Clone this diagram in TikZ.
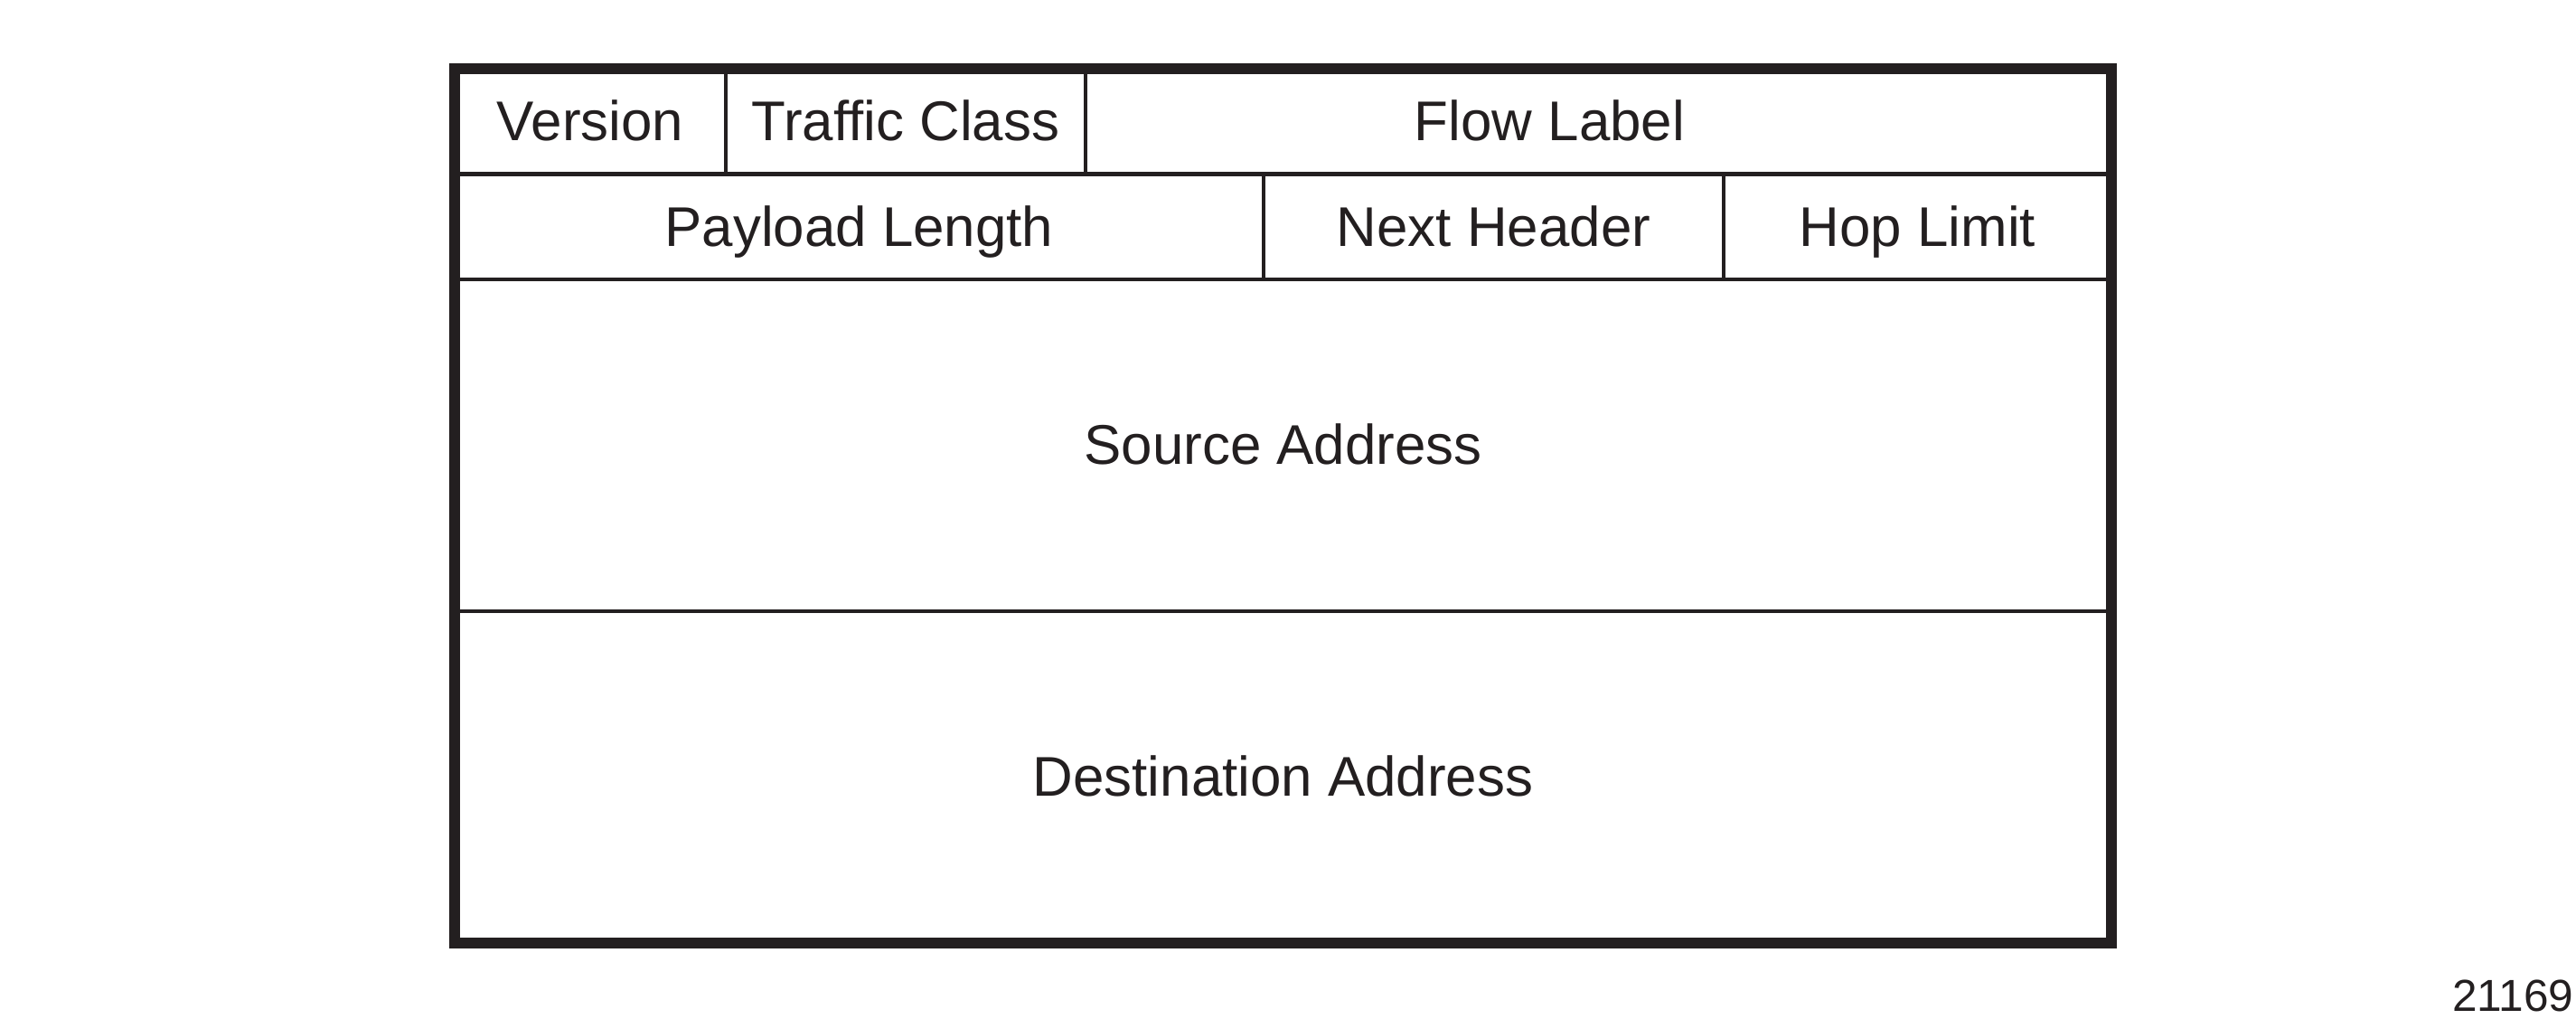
\documentclass[tikz,border=0pt]{standalone}
\usepackage{fontspec}
\setmainfont{Liberation Sans}
\usepackage{tikz}
\usetikzlibrary{positioning}
\definecolor{inkblack}{RGB}{35,31,32}

\begin{document}
\begin{tikzpicture}[
    node distance=0pt,
    field/.style={rectangle, draw=inkblack, line width=1.4pt, outer sep=0pt, inner sep=0pt,
        minimum height=1.165cm, text height=15.3pt, text depth=3.2pt,
        text=inkblack, font=\fontsize{17.6}{20}\selectfont},
    bigfield/.style={field, minimum width=18.33cm, minimum height=3.67cm},
    fieldtext/.style={inner sep=0pt, text height=15.3pt, text depth=3.2pt,
        text=inkblack, font=\fontsize{17.6}{20}\selectfont},
    frame/.style={draw=inkblack, line width=3.6pt}
]
    \useasboundingbox (0,0) rectangle (28.5,-11.27);

    % First word: version, traffic class, flow label
    \node[field, minimum width=3cm, anchor=north west] (version) at (5.03,-0.76) {Version};
    \node[field, minimum width=3.98cm, right=of version] (traffic) {Traffic Class};
    \node[field, minimum width=11.35cm, right=of traffic] (flow) {};
    \node[fieldtext] (flowtxt) at ([xshift=-0.54cm]flow.center) {Flow Label};

    % Second word: payload length, next header, hop limit
    \node[field, minimum width=8.95cm, below right=of version.south west] (payload) {Payload Length};
    \node[field, minimum width=5.09cm, right=of payload] (next) {Next Header};
    \node[field, minimum width=4.29cm, right=of next] (hop) {Hop Limit};

    % Addresses
    \node[bigfield, below right=of payload.south west] (src) {Source Address};
    \node[bigfield, below=of src] (dst) {Destination Address};

    % Outer frame
    \draw[frame] (version.north west) rectangle (dst.south east);

    % Figure number
    \node[inner sep=0pt, anchor=east, text=inkblack, font=\fontsize{14.1}{16}\selectfont] (fignum) at (28.48,-11.01) {21169};
\end{tikzpicture}
\end{document}
